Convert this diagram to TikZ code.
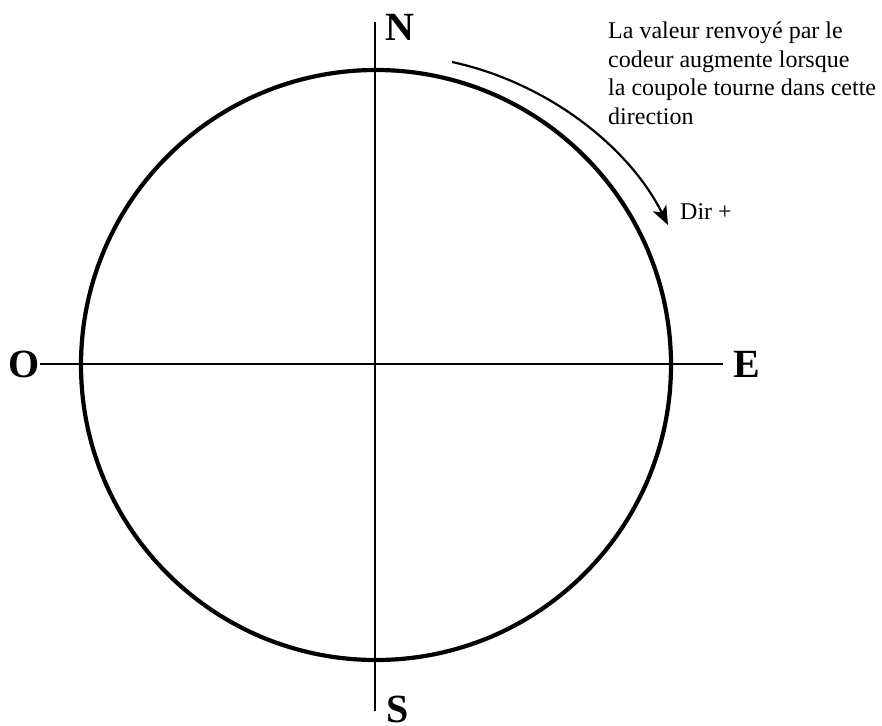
\documentclass[tikz,border=0pt]{standalone}
\usepackage{fontspec}
\setmainfont{Liberation Serif}
\usetikzlibrary{arrows.meta}
\tikzset{
  cardinal/.style={font=\fontsize{40}{44}\selectfont\bfseries,inner sep=0pt},
  note/.style={font=\fontsize{24}{28.5}\selectfont,inner sep=0pt,align=left},
  axis/.style={line width=2.2pt},
  dome/.style={line width=4.2pt},
}
\begin{document}
\begin{tikzpicture}[x=1pt,y=-1pt]
  \useasboundingbox (0,0) rectangle (882,725);
  % the dome seen from above
  \coordinate (centre) at (376,365);
  \draw[dome] (centre) circle[radius=295];
  % axes
  \coordinate (ntop) at (375,22);
  \coordinate (sbot) at (375,711);
  \coordinate (owest) at (40,364);
  \coordinate (eeast) at (723,364);
  \draw[axis] (ntop) -- (sbot);
  \draw[axis] (owest) -- (eeast);
  \node[cardinal] (north) at (400,27) {N};
  \node[cardinal] (south) at (398,709) {S};
  \node[cardinal] (west) at (24,364) {O};
  \node[cardinal] (east) at (747,364) {E};
  % direction of rotation
  \node[note,anchor=north west] (expl) at (608,22)
       {La valeur renvoyé par le\\ codeur augmente lorsque\\ la coupole tourne dans cette\\ direction};
  \coordinate (arcstart) at (452,62);
  \coordinate (arcend) at (668,225);
  \draw[line width=2.2pt,-{Stealth[length=19pt,width=15pt,inset=5pt]}]
       (arcstart) .. controls (545,82) and (628,145) .. (arcend);
  \node[note,anchor=west] (dirplus) at (680,212) {Dir +};
\end{tikzpicture}
\end{document}
